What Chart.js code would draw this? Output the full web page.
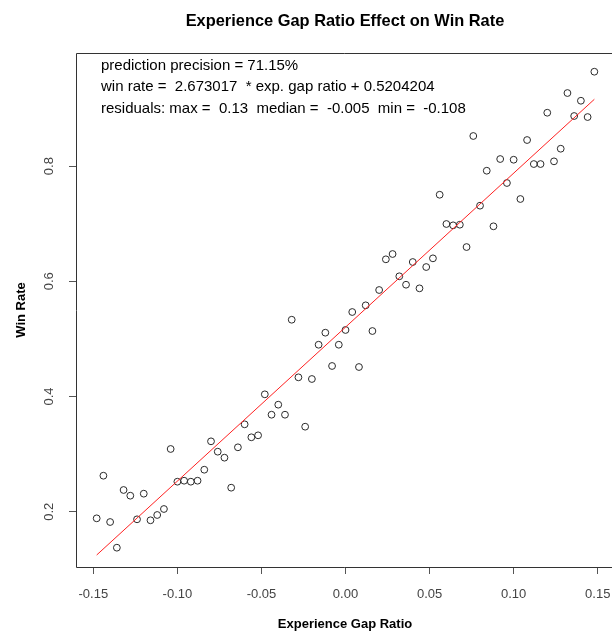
<!DOCTYPE html>
<html><head><meta charset="utf-8">
<script src="https://cdn.jsdelivr.net/npm/chart.js@4.4.0/dist/chart.umd.min.js"></script>
<style>html,body{margin:0;padding:0;overflow:hidden;background:#fff}canvas{display:block}</style>
</head><body>
<canvas id="c" width="612" height="631"></canvas>
<script>
// ---- data ----
const gapRatios = [-0.148,-0.144,-0.140,-0.136,-0.132,-0.128,-0.124,-0.120,-0.116,-0.112,
  -0.108,-0.104,-0.100,-0.096,-0.092,-0.088,-0.084,-0.080,-0.076,-0.072,
  -0.068,-0.064,-0.060,-0.056,-0.052,-0.048,-0.044,-0.040,-0.036,-0.032,
  -0.028,-0.024,-0.020,-0.016,-0.012,-0.008,-0.004,0.000,0.004,0.008,
  0.012,0.016,0.020,0.024,0.028,0.032,0.036,0.040,0.044,0.048,
  0.052,0.056,0.060,0.064,0.068,0.072,0.076,0.080,0.084,0.088,
  0.092,0.096,0.100,0.104,0.108,0.112,0.116,0.120,0.124,0.128,
  0.132,0.136,0.140,0.144,0.148];
const winRates = [0.1885,0.2625,0.1821,0.1375,0.2377,0.2278,0.1868,0.2313,0.1851,0.1943,
  0.2047,0.3089,0.2521,0.2538,0.2521,0.2538,0.2729,0.3222,0.3042,0.2938,
  0.2417,0.3118,0.3517,0.3292,0.3326,0.4038,0.3684,0.3858,0.3684,0.5333,
  0.4333,0.3476,0.4304,0.4899,0.5108,0.4530,0.4899,0.5155,0.5467,0.4512,
  0.5583,0.5137,0.5849,0.6382,0.6474,0.6087,0.5941,0.6335,0.5878,0.6248,
  0.6399,0.7503,0.6995,0.6972,0.6983,0.6595,0.8523,0.7313,0.7920,0.6955,
  0.8123,0.7707,0.8111,0.7429,0.8453,0.8036,0.8036,0.8927,0.8083,0.8302,
  0.9269,0.8870,0.9135,0.8852,0.9639];
const xTicks = [-0.15,-0.10,-0.05,0.00,0.05,0.10,0.15];
const yTicks = [0.2,0.4,0.6,0.8];
const fitSlope = 2.673017;
const fitIntercept = 0.5204204;
const titleText = 'Experience Gap Ratio Effect on Win Rate';
const xLabel = 'Experience Gap Ratio';
const yLabel = 'Win Rate';
const noteLines = [
  'prediction precision = 71.15%',
  'win rate =  2.673017  * exp. gap ratio + 0.5204204',
  'residuals: max =  0.13  median =  -0.005  min =  -0.108'
];

const FONT = '"Liberation Sans", Arial, Helvetica, sans-serif';
const points = gapRatios.map((x, i) => ({x, y: winRates[i]}));
const xMin = Math.min(...gapRatios), xMax = Math.max(...gapRatios);
const fitLine = [xMin, xMax].map(x => ({x, y: fitSlope * x + fitIntercept}));

// R-style frame; its right side falls just past the picture edge
const rPlot = {
  id: 'rPlot',
  afterDraw(chart) {
    const {ctx, chartArea: a} = chart;
    ctx.save();
    ctx.strokeStyle = '#333';
    ctx.lineWidth = 1;
    const L = Math.round(a.left) + 0.5, T = Math.round(a.top) + 0.5, B = Math.round(a.bottom) + 0.5;
    const R = Math.round(a.right) + 2.5;
    ctx.beginPath();
    ctx.moveTo(R, T); ctx.lineTo(L, T); ctx.lineTo(L, B); ctx.lineTo(R, B);
    ctx.stroke();
    ctx.fillStyle = '#000';
    ctx.textBaseline = 'alphabetic';
    ctx.font = 'bold 16.4px ' + FONT;
    ctx.textAlign = 'center';
    ctx.fillText(titleText, 345, 26);
    ctx.font = '15px ' + FONT;
    ctx.textAlign = 'left';
    noteLines.forEach((t, i) => ctx.fillText(t, 101, 69.5 + i * 21.7));
    ctx.font = 'bold 13px ' + FONT;
    ctx.textAlign = 'center';
    ctx.textBaseline = 'middle';
    ctx.fillText(xLabel, 345, 624);
    ctx.restore();
  }
};

function noPad(s) { s.paddingLeft = 0; s.paddingRight = 0; s.paddingTop = 0; s.paddingBottom = 0; }

new Chart(document.getElementById('c'), {
  type: 'scatter',
  data: {
    datasets: [
      {
        label: 'fit', data: fitLine, showLine: true, borderColor: '#ff2020',
        borderWidth: 1, pointRadius: 0, fill: false
      },
      {
        label: 'teams', data: points, pointRadius: 3.4, pointBorderWidth: 1,
        borderColor: '#2a2a2a', backgroundColor: 'rgba(0,0,0,0)', pointStyle: 'circle'
      }
    ]
  },
  options: {
    responsive: false, animation: false, devicePixelRatio: 1, events: [],
    layout: {autoPadding: false, padding: {top: 53, right: 0, bottom: 0, left: 0}},
    plugins: {legend: {display: false}, tooltip: {enabled: false}, title: {display: false}},
    scales: {
      x: {
        type: 'linear', min: -0.1603, max: 0.1585,
        afterBuildTicks: s => { s.ticks = xTicks.map(v => ({value: v})); },
        afterFit: s => { s.height = 64; noPad(s); },
        grid: {drawOnChartArea: false, drawTicks: true, tickLength: 7, tickColor: '#555', lineWidth: 1},
        border: {display: false},
        ticks: {padding: 13, color: '#444', autoSkip: false, maxRotation: 0, minRotation: 0,
                font: {family: FONT, size: 13}, callback: v => Number(v).toFixed(2)},
        title: {display: false}
      },
      y: {
        type: 'linear', min: 0.104, max: 0.9964,
        afterBuildTicks: s => { s.ticks = yTicks.map(v => ({value: v})); },
        afterFit: s => { s.width = 76; noPad(s); },
        grid: {drawOnChartArea: false, drawTicks: true, tickLength: 7, tickColor: '#555', lineWidth: 1},
        border: {display: false},
        ticks: {padding: 11, color: '#444', crossAlign: 'center', minRotation: 90, maxRotation: 90,
                font: {family: FONT, size: 13}, callback: v => Number(v).toFixed(1)},
        title: {display: true, text: yLabel, color: '#000',
                font: {family: FONT, size: 13, weight: 'bold', lineHeight: 1.08},
                padding: {top: 14, bottom: 0}}
      }
    }
  },
  plugins: [rPlot]
});
</script>
</body></html>
